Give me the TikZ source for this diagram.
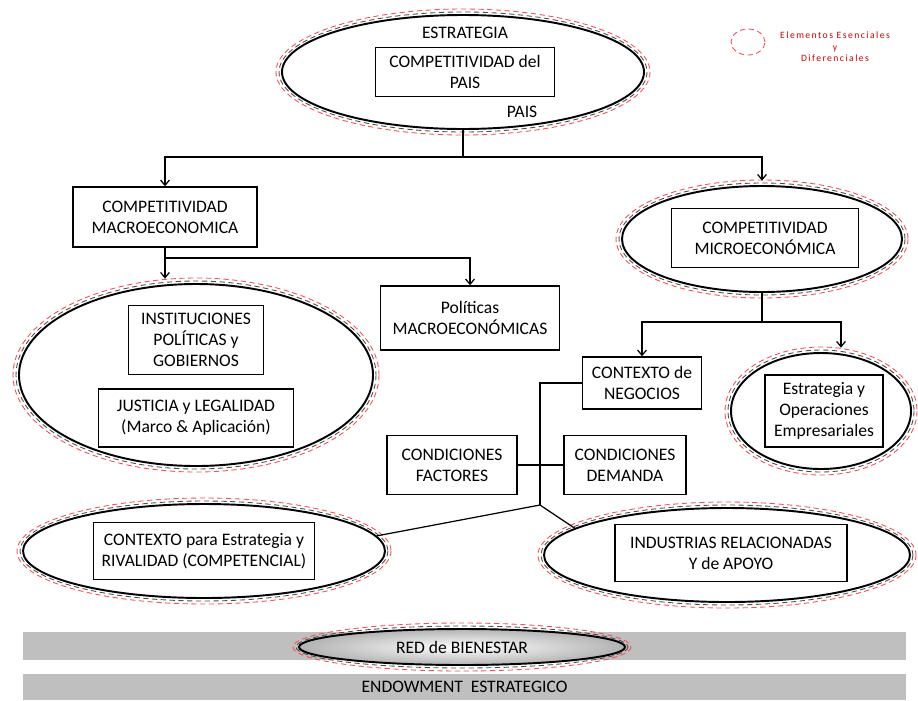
\documentclass[tikz,border=0pt]{standalone}
\usepackage{fontspec}
\setmainfont{Carlito}
\usetikzlibrary{shapes.geometric,arrows.meta}
\begin{document}
\begin{tikzpicture}[x=0.02cm, y=-0.02cm, line width=0.7pt,
                    >={Straight Barb[length=3pt,width=5pt]},
                    mbox/.style = {shape = rectangle,
                                   draw,
                                   line width = 0.8pt,
                                   align = center,
                                   inner sep = 2pt,
                                   font = \fontsize{10}{12}\selectfont},
                    mell/.style = {shape = ellipse,
                                   draw,
                                   line width = 1.1pt,
                                   inner sep = 0pt},
                    ered/.style = {inner color = white, outer color = gray!60},
                    mring/.style = {densely dashed, line width = 0.5pt},
                    mbar/.style = {shape = rectangle,
                                   fill = gray!50,
                                   minimum width = 17.66cm,
                                   inner sep = 0pt,
                                   font = \fontsize{10}{12}\selectfont}]
		\useasboundingbox (0,0) rectangle (918,700);
		% bars
		\node[mbar, minimum height = 0.56cm] (bien) at (464.5,646) {};
		\node[mbar, minimum height = 0.52cm] (endow) at (464.5,687) {ENDOWMENT\ \ ESTRATEGICO};
		% ellipses and rings
		\foreach \n/\cx/\cy/\rx/\ry [evaluate = \rx as \ra using \rx+3,
		                             evaluate = \ry as \rb using \ry+3,
		                             evaluate = \rx as \rc using \rx+6,
		                             evaluate = \ry as \rd using \ry+6] in
		        {top/463/72/181/57, big/196/375/177/91, mic/762/239/140/53,
		         est/821/411/90/58, ctx/204/551/181/47, ind/727/555/183/47,
		         red/462/647/163/18}
		{
			\node[mell, minimum width = 2*\rx*0.02cm, minimum height = 2*\ry*0.02cm, e\n/.try] (\n) at (\cx,\cy) {};
			\draw[mring, black!70] (\cx,\cy) ellipse [x radius = \ra, y radius = \rb];
			\draw[mring, red!70] (\cx,\cy) ellipse [x radius = \rc, y radius = \rd];
		}
		\node[font = \fontsize{10}{12}\selectfont] (redt) at (red) {RED de BIENESTAR};
		% legend
		\node[shape = ellipse, mring, draw = red!70, minimum width = 0.68cm, minimum height = 0.52cm] (leg) at (748,42) {};
		\node[text = red!80!black, align = center,
		      font = \fontsize{5.5}{6.5}\selectfont\addfontfeature{LetterSpace=15}] (legt) at (835,47)
		      {Elementos\ Esenciales\\y\\Diferenciales};
		% texts and boxes
		\node[font = \fontsize{10}{12}\selectfont] (estrat) at (465,33) {ESTRATEGIA};
		\node[font = \fontsize{10}{12}\selectfont] (paist) at (522,112) {PAIS};
		\node[mbox, minimum width = 3.58cm, minimum height = 0.98cm] (cpais) at (465,72) {COMPETITIVIDAD del\\PAIS};
		\node[mbox, minimum width = 3.68cm, minimum height = 1.2cm] (macro) at (165,217) {COMPETITIVIDAD\\MACROECONOMICA};
		\node[mbox, minimum width = 2.7cm, minimum height = 1.38cm] (inst) at (196,340) {INSTITUCIONES\\POLÍTICAS y\\GOBIERNOS};
		\node[mbox, minimum width = 3.9cm, minimum height = 1.16cm] (just) at (196,418) {JUSTICIA y LEGALIDAD\\(Marco \& Aplicación)};
		\node[mbox, minimum width = 3.58cm, minimum height = 1.28cm] (pol) at (470,318) {Políticas\\MACROECONÓMICAS};
		\node[mbox, minimum width = 3.74cm, minimum height = 1.18cm] (cmic) at (765,238) {COMPETITIVIDAD\\MICROECONÓMICA};
		\node[mbox, minimum width = 2.38cm, minimum height = 1.04cm] (neg) at (642,383) {CONTEXTO de\\NEGOCIOS};
		\node[mbox, minimum width = 2.6cm, minimum height = 1.18cm] (fact) at (452,465) {CONDICIONES\\FACTORES};
		\node[mbox, minimum width = 2.44cm, minimum height = 1.18cm] (dem) at (625,465) {CONDICIONES\\DEMANDA};
		\node[mbox, minimum width = 2.36cm, minimum height = 1.44cm] (estop) at (824,411) {Estrategia y\\Operaciones\\Empresariales};
		\node[mbox, minimum width = 4.42cm, minimum height = 1.14cm] (ctxb) at (204,551) {CONTEXTO para Estrategia y\\RIVALIDAD (COMPETENCIAL)};
		\node[mbox, minimum width = 4.64cm, minimum height = 1.14cm] (indb) at (731,553) {INDUSTRIAS RELACIONADAS\\Y de APOYO};
		% connectors
		\coordinate (j1) at (463,157);
		\coordinate (j2) at (165,258);
		\coordinate (j3) at (762,322);
		\coordinate (j4) at (540,505);
		\draw (top.south) -- (j1);
		\draw[->] (j1) -| (macro.north);
		\draw[->, shorten >= 2.5pt] (j1) -| (mic.north);
		\draw (macro.south) -- (j2);
		\draw[->, shorten >= 2.5pt] (j2) -- (j2 |- big.north);
		\draw[->] (j2) -| (pol.north);
		\draw (mic.south) -- (j3);
		\draw[->] (j3) -| (neg.north);
		\draw[->, shorten >= 2.5pt] (j3) -| ([xshift = 0.4cm]est.north);
		\draw (neg.west) -| (j4);
		\draw (j4) -- (ctx.5);
		\draw (j4) -- (ind.170);
		\draw (fact) -- (dem);
	\end{tikzpicture}
\end{document}
